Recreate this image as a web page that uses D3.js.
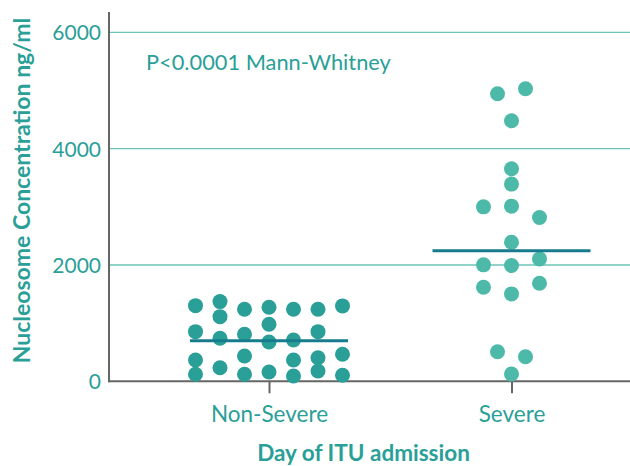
<!DOCTYPE html>
<html><head><meta charset="utf-8">
<script src="https://cdn.jsdelivr.net/npm/d3@7"></script>
<style>
html,body{margin:0;padding:0;background:#fff;}
svg{display:block;font-family:Lato,"Open Sans",sans-serif;}
</style></head>
<body><svg id="c" width="630" height="466"></svg>
<script>
// ---- data ----
const categories = ["Non-Severe", "Severe"];
const yTicks = [0, 2000, 4000, 6000];
// Non-Severe: value, column index within swarm
const nonSevereValues = [1301, 854, 367, 120, 1370, 1112, 740, 234, 1239, 809, 435, 120, 1274, 981, 676, 160, 1239, 711, 367, 91, 1239, 854, 406, 177, 1296, 465, 103];
const nonSevereCols   = [-3, -3, -3, -3, -2, -2, -2, -2, -1, -1, -1, -1, 0, 0, 0, 0, 1, 1, 1, 1, 2, 2, 2, 2, 3, 3, 3];
const severeValues = [4945, 5031, 4480, 3654, 3391, 3000, 3012, 2816, 2392, 2002, 1990, 2105, 1618, 1503, 1687, 509, 423, 126];
const severeCols   = [-1, 1, 0, 0, 0, -2, 0, 2, 0, -2, 0, 2, -2, 0, 2, -1, 1, 0];
const medians = [699, 2243];
const annotation = "P<0.0001 Mann-Whitney";
const yTitle = "Nucleosome Concentration ng/ml";
const xTitle = "Day of ITU admission";

// ---- drawing ----
const svg = d3.select("#c");
const teal = "#2a9f98";
const y = d3.scaleLinear().domain([0, 6350]).range([381.3, 12]);
const x = d3.scalePoint().domain(categories).range([269, 511.5]);
const colStep = {"Non-Severe": 24.5, "Severe": 14};
const dotColor = {"Non-Severe": "#2a9f98", "Severe": "#4cb9a9"};
const left = 109, right = 630;

// gridlines
svg.append("g").selectAll("line").data(yTicks.filter(d => d > 0)).join("line")
  .attr("x1", left).attr("x2", right)
  .attr("y1", d => y(d)).attr("y2", d => y(d))
  .attr("stroke", "#6cc4b6").attr("stroke-width", 1.3);

// y axis
const yAxis = svg.append("g").attr("transform", `translate(${left},0)`)
  .call(d3.axisLeft(y).tickValues(yTicks).tickSize(0).tickPadding(8).tickFormat(d3.format("d")));
yAxis.select(".domain").remove();
yAxis.selectAll("text").attr("fill", teal).attr("font-size", 21).attr("font-family", "Lato").attr("dy", "0.36em");
svg.append("line").attr("x1", left).attr("x2", left).attr("y1", y.range()[1]).attr("y2", y(0) + 1)
  .attr("stroke", "#666").attr("stroke-width", 2);

// x axis
const xAxis = svg.append("g").attr("transform", `translate(0,${y(0)})`)
  .call(d3.axisBottom(x).tickSize(12).tickPadding(10));
xAxis.select(".domain").remove();
xAxis.selectAll(".tick line").attr("stroke", "#666").attr("stroke-width", 2);
xAxis.selectAll("text").attr("fill", teal).attr("font-size", 22.5).attr("font-family", "Lato")
  .attr("y", 41).attr("dy", 0);
svg.append("line").attr("x1", left - 1).attr("x2", right).attr("y1", y(0)).attr("y2", y(0))
  .attr("stroke", "#666").attr("stroke-width", 2);

// dots
const points = [];
nonSevereValues.forEach((v, i) => points.push({cat: "Non-Severe", v, c: nonSevereCols[i]}));
severeValues.forEach((v, i) => points.push({cat: "Severe", v, c: severeCols[i]}));
svg.append("g").selectAll("circle").data(points).join("circle")
  .attr("cx", d => x(d.cat) + d.c * colStep[d.cat])
  .attr("cy", d => y(d.v))
  .attr("r", 7.5)
  .attr("fill", d => dotColor[d.cat]);

// medians
svg.append("g").selectAll("line").data(medians).join("line")
  .attr("x1", (d, i) => x(categories[i]) - 79)
  .attr("x2", (d, i) => x(categories[i]) + 79)
  .attr("y1", d => y(d)).attr("y2", d => y(d))
  .attr("stroke", "#167b8c").attr("stroke-width", 3);

// annotation
svg.append("text").attr("x", 146).attr("y", 70).text(annotation)
  .attr("fill", teal).attr("font-size", 21.8);

// titles
svg.append("text").attr("x", 363.5).attr("y", 461.3).attr("text-anchor", "middle")
  .attr("font-weight", "bold").attr("font-size", 22.5).attr("fill", teal).text(xTitle);
svg.append("text").attr("transform", "translate(30,190.5) rotate(-90)").attr("text-anchor", "middle")
  .attr("font-weight", "bold").attr("font-size", 23).attr("fill", teal).text(yTitle);
</script>
</body></html>
